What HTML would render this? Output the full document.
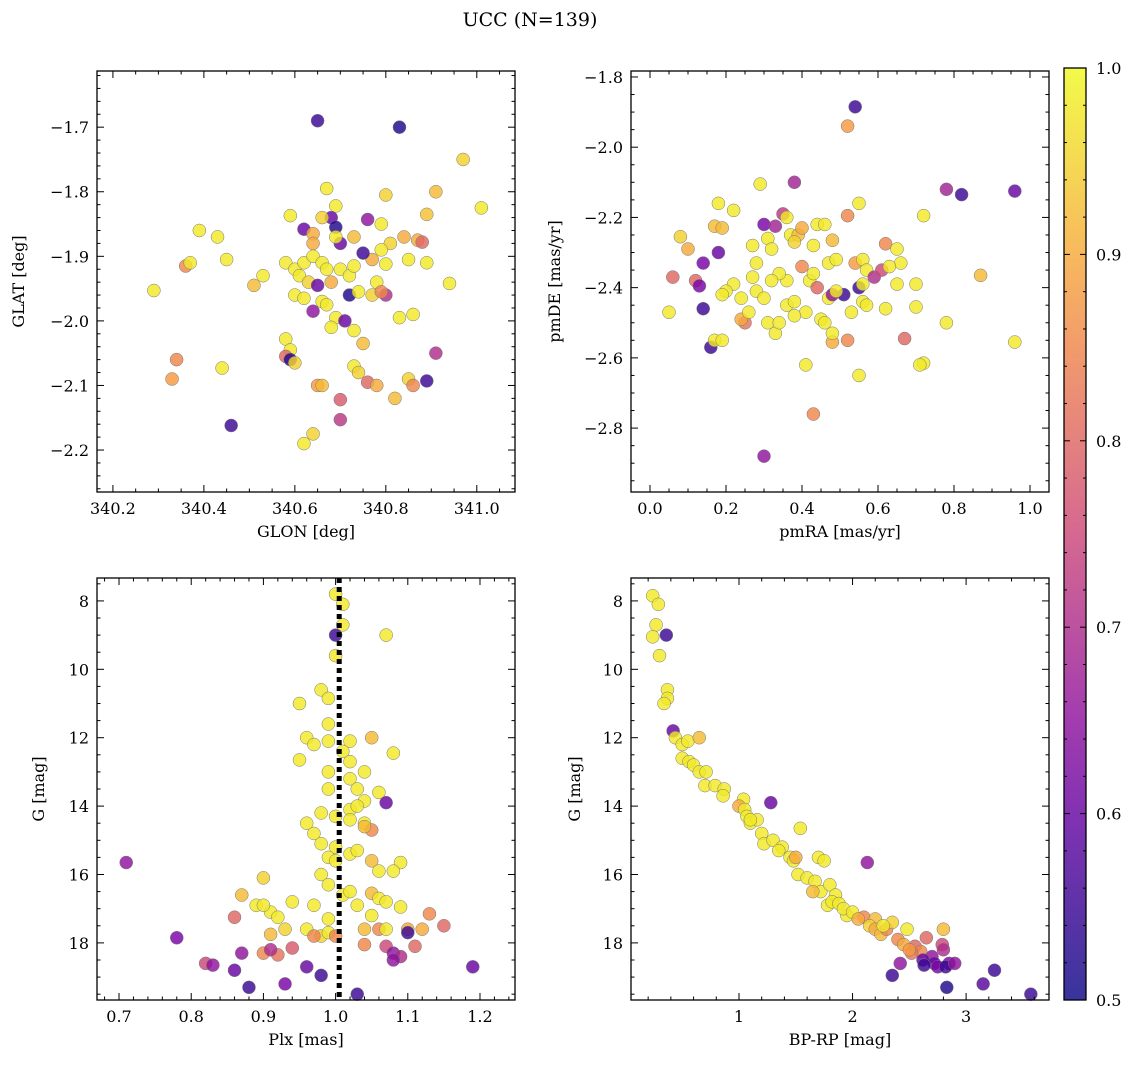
<!DOCTYPE html>
<html><head><meta charset="utf-8"><style>
body{margin:0;background:#fff;}
svg text{font-family:"DejaVu Serif","Liberation Serif",serif;fill:#000;}
</style></head><body>
<svg id="fig" width="1136" height="1068" xmlns="http://www.w3.org/2000/svg">
<text x="530" y="26" font-size="19" text-anchor="middle">UCC (N=139)</text>
</svg>
<script>
// Panel 1: GLON/GLAT
const p1x=[340.65,340.83,340.97,341.01,340.91,340.80,340.89,340.39,340.43,340.36,340.37,340.45,340.29,340.51,340.53,340.59,340.67,340.69,340.68,340.66,340.62,340.64,340.64,340.69,340.73,340.76,340.79,340.81,340.84,340.87,340.88,340.80,340.79,340.85,340.89,340.94,340.77,340.75,340.70,340.69,340.58,340.60,340.62,340.61,340.64,340.66,340.67,340.70,340.72,340.73,340.63,340.65,340.68,340.60,340.62,340.66,340.64,340.67,340.69,340.68,340.72,340.71,340.74,340.78,340.77,340.80,340.79,340.83,340.86,340.75,340.73,340.58,340.59,340.58,340.59,340.60,340.34,340.33,340.44,340.73,340.76,340.78,340.85,340.86,340.89,340.91,340.82,340.65,340.66,340.70,340.70,340.64,340.62,340.46,340.74];
const p1y=[-1.69,-1.70,-1.75,-1.825,-1.80,-1.805,-1.835,-1.86,-1.87,-1.915,-1.91,-1.905,-1.953,-1.945,-1.93,-1.837,-1.795,-1.822,-1.84,-1.84,-1.858,-1.865,-1.88,-1.855,-1.87,-1.843,-1.85,-1.88,-1.87,-1.875,-1.878,-1.912,-1.89,-1.905,-1.91,-1.942,-1.905,-1.895,-1.88,-1.87,-1.91,-1.92,-1.91,-1.93,-1.9,-1.91,-1.92,-1.92,-1.93,-1.915,-1.94,-1.945,-1.94,-1.96,-1.965,-1.97,-1.985,-1.975,-1.995,-2.01,-1.96,-2.0,-1.955,-1.94,-1.96,-1.96,-1.955,-1.995,-1.99,-2.035,-2.015,-2.028,-2.045,-2.055,-2.06,-2.065,-2.06,-2.09,-2.073,-2.07,-2.095,-2.10,-2.09,-2.10,-2.093,-2.05,-2.12,-2.1,-2.1,-2.122,-2.153,-2.175,-2.19,-2.162,-2.08];
const p1c=[0.55,0.52,0.95,0.98,0.92,0.95,0.93,0.98,0.98,0.85,0.98,0.98,0.98,0.92,0.98,0.98,0.98,0.98,0.60,0.95,0.60,0.90,0.90,0.52,0.92,0.65,0.98,0.95,0.90,0.9,0.8,0.98,0.98,0.98,0.98,0.98,0.9,0.55,0.6,0.98,0.98,0.98,0.98,0.98,0.98,0.98,0.98,0.98,0.98,0.98,0.95,0.6,0.9,0.98,0.98,0.98,0.65,0.98,0.98,0.98,0.52,0.6,0.98,0.98,0.95,0.7,0.85,0.98,0.98,0.92,0.98,0.98,0.98,0.8,0.52,0.95,0.85,0.88,0.98,0.98,0.8,0.9,0.95,0.85,0.55,0.7,0.92,0.88,0.92,0.78,0.72,0.95,0.98,0.55,0.95];
// Panel 2: pmRA/pmDE
const p2x=[0.54,0.52,0.78,0.82,0.96,0.72,0.38,0.29,0.18,0.22,0.08,0.10,0.17,0.19,0.18,0.14,0.06,0.12,0.13,0.14,0.05,0.16,0.17,0.19,0.30,0.33,0.31,0.32,0.27,0.35,0.37,0.39,0.40,0.38,0.43,0.44,0.46,0.48,0.47,0.49,0.52,0.55,0.54,0.56,0.57,0.59,0.62,0.65,0.66,0.61,0.55,0.51,0.56,0.57,0.53,0.62,0.65,0.70,0.70,0.67,0.72,0.71,0.78,0.87,0.96,0.55,0.52,0.48,0.48,0.41,0.43,0.30,0.25,0.24,0.26,0.22,0.24,0.20,0.19,0.28,0.30,0.31,0.33,0.34,0.36,0.38,0.40,0.42,0.44,0.45,0.46,0.47,0.48,0.49,0.43,0.36,0.34,0.32,0.28,0.27,0.41,0.36,0.56,0.63,0.38];
const p2y=[-1.885,-1.94,-2.12,-2.135,-2.125,-2.195,-2.1,-2.105,-2.16,-2.18,-2.255,-2.29,-2.225,-2.23,-2.30,-2.33,-2.37,-2.38,-2.395,-2.46,-2.47,-2.57,-2.55,-2.55,-2.22,-2.225,-2.26,-2.29,-2.28,-2.19,-2.25,-2.25,-2.23,-2.27,-2.28,-2.22,-2.22,-2.265,-2.33,-2.32,-2.195,-2.16,-2.33,-2.32,-2.35,-2.37,-2.275,-2.29,-2.33,-2.35,-2.40,-2.42,-2.44,-2.45,-2.47,-2.46,-2.39,-2.39,-2.455,-2.545,-2.615,-2.62,-2.5,-2.365,-2.555,-2.65,-2.55,-2.555,-2.53,-2.62,-2.76,-2.88,-2.5,-2.49,-2.47,-2.39,-2.43,-2.41,-2.42,-2.41,-2.43,-2.5,-2.53,-2.5,-2.45,-2.44,-2.34,-2.38,-2.40,-2.49,-2.5,-2.43,-2.42,-2.41,-2.36,-2.38,-2.36,-2.38,-2.33,-2.37,-2.47,-2.20,-2.39,-2.34,-2.48];
const p2c=[0.55,0.88,0.68,0.55,0.6,0.98,0.68,0.98,0.98,0.98,0.95,0.9,0.92,0.92,0.6,0.62,0.8,0.8,0.62,0.55,0.98,0.55,0.98,0.98,0.62,0.68,0.98,0.98,0.98,0.72,0.98,0.92,0.9,0.95,0.98,0.98,0.98,0.92,0.98,0.98,0.85,0.98,0.88,0.98,0.98,0.7,0.85,0.98,0.98,0.75,0.55,0.55,0.98,0.98,0.98,0.98,0.98,0.98,0.98,0.8,0.98,0.98,0.98,0.92,0.98,0.98,0.85,0.9,0.98,0.98,0.85,0.65,0.82,0.9,0.98,0.98,0.98,0.98,0.98,0.98,0.98,0.98,0.98,0.98,0.98,0.98,0.85,0.98,0.8,0.98,0.98,0.98,0.65,0.98,0.98,0.98,0.98,0.98,0.98,0.98,0.98,0.98,0.98,0.98,0.98];
// Panel 3: Plx/G
const p3x=[1.00,1.01,1.01,1.00,1.07,1.00,0.98,0.99,0.95,0.99,0.96,0.97,0.99,0.95,1.02,1.01,1.02,1.05,1.08,0.99,1.02,1.04,0.99,1.03,1.04,1.06,1.07,1.02,1.03,0.98,1.00,1.02,1.04,1.05,1.04,0.96,0.97,0.98,1.00,0.99,1.00,1.02,1.03,1.09,1.08,1.05,1.06,0.98,0.99,0.90,0.87,0.89,0.91,0.94,0.97,1.01,1.02,1.05,1.06,1.07,1.09,1.05,0.90,0.92,0.93,0.91,0.96,0.98,0.99,1.00,0.97,1.04,1.06,1.07,1.10,1.12,1.13,1.15,1.11,1.04,1.07,1.08,1.09,1.08,1.10,0.86,0.90,0.92,0.94,0.91,0.87,0.82,0.83,0.86,0.88,0.93,0.96,0.98,1.03,0.78,0.71,1.19,0.99,1.03];
const p3y=[7.8,8.1,8.7,9.0,9.0,9.6,10.6,10.85,11.0,11.6,12.0,12.2,12.1,12.65,12.1,12.4,12.7,12.0,12.45,13.0,13.2,13.0,13.5,13.5,13.85,13.6,13.9,14.1,14.0,14.2,14.3,14.4,14.5,14.7,14.6,14.5,14.8,15.1,15.2,15.5,15.6,15.4,15.3,15.65,15.9,15.6,15.9,16.0,16.3,16.1,16.6,16.9,17.1,16.8,16.9,16.6,16.5,16.55,16.7,16.8,16.95,17.2,16.9,17.25,17.6,17.75,17.6,17.8,17.7,17.8,17.8,17.6,17.6,17.6,17.6,17.6,17.15,17.5,18.1,18.05,18.1,18.3,18.4,18.5,17.7,17.25,18.3,18.35,18.15,18.2,18.3,18.6,18.65,18.8,19.3,19.2,18.7,18.95,19.5,17.85,15.65,18.7,17.3,16.9];
const p3c=[0.98,0.98,0.98,0.55,0.98,0.98,0.98,0.98,0.98,0.98,0.98,0.98,0.98,0.98,0.98,0.98,0.98,0.92,0.98,0.98,0.98,0.98,0.98,0.98,0.98,0.98,0.6,0.98,0.98,0.98,0.98,0.98,0.98,0.85,0.92,0.98,0.98,0.98,0.98,0.98,0.98,0.98,0.98,0.98,0.98,0.92,0.98,0.98,0.98,0.95,0.92,0.98,0.98,0.98,0.98,0.98,0.98,0.92,0.98,0.98,0.98,0.98,0.98,0.98,0.95,0.92,0.98,0.95,0.98,0.85,0.85,0.92,0.85,0.98,0.9,0.9,0.85,0.8,0.8,0.85,0.75,0.65,0.7,0.65,0.55,0.8,0.85,0.82,0.78,0.7,0.65,0.75,0.65,0.6,0.55,0.62,0.6,0.55,0.55,0.62,0.65,0.6,0.98,0.98];
// Panel 4: BP-RP/G
const p4x=[0.24,0.29,0.27,0.24,0.36,0.30,0.37,0.37,0.34,0.42,0.44,0.50,0.55,0.65,0.50,0.56,0.60,0.65,0.71,0.70,0.79,0.87,0.86,1.04,1.28,1.0,1.05,1.07,1.1,1.16,1.2,1.22,1.3,1.38,1.54,1.45,1.48,1.5,1.52,1.6,1.7,1.75,1.67,1.72,1.65,1.8,1.85,1.78,1.82,1.88,1.95,1.92,2.13,2.1,2.2,2.15,2.2,2.25,2.3,2.35,2.48,2.27,2.4,2.45,2.55,2.6,2.52,2.65,2.8,2.79,2.8,2.7,2.62,2.72,2.85,2.75,2.82,2.63,2.42,2.35,2.83,3.15,3.25,3.57,2.9,2.0,1.1,1.35,2.05,2.5];
const p4y=[7.85,8.1,8.7,9.05,9.0,9.6,10.6,10.85,11.0,11.8,12.0,12.2,12.1,12.0,12.6,12.7,12.8,13.0,13.0,13.4,13.4,13.5,13.7,13.8,13.9,14.0,14.1,14.3,14.5,14.4,14.8,15.1,15.0,15.2,14.65,15.5,15.6,15.5,16.0,16.1,15.5,15.6,16.2,16.5,16.5,16.3,16.6,16.9,16.8,16.85,17.2,17.0,15.65,17.25,17.3,17.5,17.6,17.75,17.6,17.4,17.6,17.5,17.9,18.05,18.1,18.25,18.3,17.85,17.6,18.05,18.2,18.4,18.5,18.6,18.6,18.7,18.7,18.65,18.6,18.95,19.3,19.2,18.8,19.5,18.6,17.1,14.4,15.3,17.3,18.2];
const p4c=[0.98,0.98,0.98,0.98,0.55,0.98,0.98,0.98,0.98,0.6,0.98,0.98,0.98,0.92,0.98,0.98,0.98,0.98,0.98,0.98,0.98,0.98,0.98,0.98,0.6,0.9,0.98,0.98,0.98,0.98,0.98,0.98,0.98,0.98,0.98,0.98,0.98,0.9,0.98,0.98,0.98,0.98,0.98,0.98,0.92,0.98,0.98,0.98,0.98,0.98,0.98,0.98,0.65,0.85,0.92,0.95,0.9,0.92,0.85,0.95,0.98,0.98,0.85,0.9,0.8,0.85,0.82,0.8,0.92,0.75,0.7,0.65,0.6,0.6,0.62,0.62,0.55,0.55,0.65,0.55,0.52,0.58,0.55,0.55,0.65,0.98,0.98,0.98,0.9,0.88];
const cbTicks=[0.5,0.6,0.7,0.8,0.9,1.0];

const NS='http://www.w3.org/2000/svg';
const svg=document.getElementById('fig');
function mk(tag,attrs,parent){const e=document.createElementNS(NS,tag);for(const k in attrs)e.setAttribute(k,attrs[k]);(parent||svg).appendChild(e);return e;}
const stops=[[0,[13,8,135]],[0.25,[126,3,168]],[0.5,[204,71,120]],[0.75,[248,149,64]],[1,[240,249,33]]];
function plasma(t){t=Math.max(0,Math.min(1,t));for(let i=1;i<stops.length;i++){if(t<=stops[i][0]){const a=stops[i-1],b=stops[i];const f=(t-a[0])/(b[0]-a[0]);const c=a[1].map((v,j)=>Math.round(v+(b[1][j]-v)*f));return `rgb(${c[0]},${c[1]},${c[2]})`;}}return 'rgb(240,249,33)';}
function col(p){return plasma((p-0.5)/0.5);}

function panel(o){
  const g=mk('g',{});
  
  
  const L=o.box[0],T=o.box[1],R=o.box[2],B=o.box[3];
  const sx=v=>L+(v-o.xr[0])/(o.xr[1]-o.xr[0])*(R-L);
  const sy=v=>o.yinv? T+(v-o.yr[0])/(o.yr[1]-o.yr[0])*(B-T) : B-(v-o.yr[0])/(o.yr[1]-o.yr[0])*(B-T);
  // points
  const pg=mk('g',{},g);
  
  
  if(o.vline!==undefined){}
  for(let i=0;i<o.x.length;i++){
    const c=mk('circle',{cx:sx(o.x[i]),cy:sy(o.y[i]),r:6.5,fill:col(o.c[i]),'fill-opacity':0.82,stroke:'#777','stroke-width':0.5},pg);
    
    
  }
  if(o.vline!==undefined){
    const l=mk('line',{x1:sx(o.vline),x2:sx(o.vline),y1:T,y2:B,stroke:'#000','stroke-width':5,'stroke-dasharray':'5,4'},g);
    
    
  }
  const fr=mk('rect',{x:L,y:T,width:R-L,height:B-T,fill:'none',stroke:'#000','stroke-width':1.3},g);
  
  
  // ticks
  const eps=1e-9;
  for(let v=Math.ceil(o.xr[0]/o.xmin-eps)*o.xmin;v<=o.xr[1]+eps;v+=o.xmin){
    const X=sx(v);const isMaj=Math.abs(v/o.xmaj-Math.round(v/o.xmaj))<1e-6;const len=isMaj?7:3.5;
    mk('line',{x1:X,x2:X,y1:B,y2:B-len,stroke:'#000','stroke-width':1},g);
    mk('line',{x1:X,x2:X,y1:T,y2:T+len,stroke:'#000','stroke-width':1},g);
    if(isMaj){const t=mk('text',{x:X,y:B+22,'font-size':16,'text-anchor':'middle'},g);t.textContent=(Math.round(v/o.xmaj)*o.xmaj).toFixed(o.xd);
      }
  }
  for(let v=Math.ceil(o.yr[0]/o.ymin-eps)*o.ymin;v<=o.yr[1]+eps;v+=o.ymin){
    const Y=sy(v);const isMaj=Math.abs(v/o.ymaj-Math.round(v/o.ymaj))<1e-6;const len=isMaj?7:3.5;
    mk('line',{x1:L,x2:L+len,y1:Y,y2:Y,stroke:'#000','stroke-width':1},g);
    mk('line',{x1:R,x2:R-len,y1:Y,y2:Y,stroke:'#000','stroke-width':1},g);
    if(isMaj){const t=mk('text',{x:L-8,y:Y+6,'font-size':16,'text-anchor':'end'},g);
      const val=Math.round(v/o.ymaj)*o.ymaj;t.textContent=(val<0?'\u2212':'')+Math.abs(val).toFixed(o.yd);
      }
  }
  const xl=mk('text',{x:(L+R)/2,y:B+45,'font-size':16,'text-anchor':'middle'},g);xl.textContent=o.xlab;
  
  const yl=mk('text',{x:0,y:0,'font-size':16,'text-anchor':'middle',transform:`translate(${o.ylx},${(T+B)/2}) rotate(-90)`},g);yl.textContent=o.ylab;
  
}
panel({name:'glon-glat-panel',box:[97,71,515,492],xr:[340.165,341.084],yr:[-2.265,-1.613],x:p1x,y:p1y,c:p1c,xmaj:0.2,xmin:0.05,ymaj:0.1,ymin:0.02,xd:1,yd:1,xlab:'GLON [deg]',ylab:'GLAT [deg]',ylx:24});
panel({name:'proper-motion-panel',box:[631,71,1049,492],xr:[-0.05,1.05],yr:[-2.982,-1.783],x:p2x,y:p2y,c:p2c,xmaj:0.2,xmin:0.05,ymaj:0.2,ymin:0.05,xd:1,yd:1,xlab:'pmRA [mas/yr]',ylab:'pmDE [mas/yr]',ylx:560});
panel({name:'parallax-magnitude-panel',box:[97,578,515,1000],xr:[0.6695,1.2485],yr:[7.33,19.67],yinv:true,x:p3x,y:p3y,c:p3c,xmaj:0.1,xmin:0.02,ymaj:2,ymin:0.5,xd:1,yd:0,xlab:'Plx [mas]',ylab:'G [mag]',ylx:44,vline:1.005});
panel({name:'color-magnitude-panel',box:[631,578,1049,1000],xr:[0.049,3.73],yr:[7.33,19.67],yinv:true,x:p4x,y:p4y,c:p4c,xmaj:1,xmin:0.2,ymaj:2,ymin:0.5,xd:0,yd:0,xlab:'BP-RP [mag]',ylab:'G [mag]',ylx:580});

// colorbar
const cb=mk('g',{});


const defs=mk('defs',{},cb);
const lg=mk('linearGradient',{id:'cbg',x1:0,y1:1,x2:0,y2:0},defs);
for(let i=0;i<=10;i++){mk('stop',{offset:i/10,'stop-color':plasma(i/10),'stop-opacity':0.82},lg);}
const cT=68,cB=1000,cL=1064,cR=1086;
mk('rect',{x:cL,y:cT,width:cR-cL,height:cB-cT,fill:'url(#cbg)',stroke:'#000','stroke-width':1.3},cb);
const cy=v=>cB-(v-0.5)/0.5*(cB-cT);
for(let v=0.5;v<=1.0001;v+=0.02){const Y=cy(v);const maj=Math.abs(v*10-Math.round(v*10))<1e-6;
  mk('line',{x1:cR,x2:cR-(maj?6:3),y1:Y,y2:Y,stroke:'#000','stroke-width':1},cb);
  mk('line',{x1:cL,x2:cL+(maj?6:3),y1:Y,y2:Y,stroke:'#000','stroke-width':1},cb);}
cbTicks.forEach(v=>{const t=mk('text',{x:cR+10,y:cy(v)+6,'font-size':16},cb);t.textContent=v.toFixed(1);
  });
</script>
</body></html>
